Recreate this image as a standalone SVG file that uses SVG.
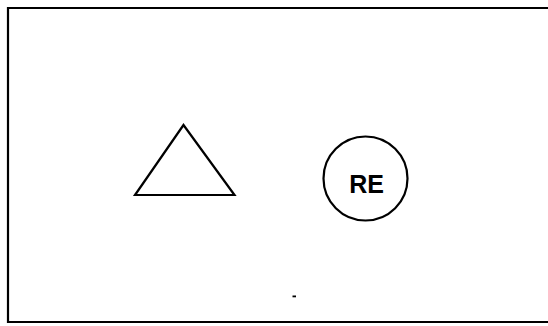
<svg xmlns="http://www.w3.org/2000/svg" width="548" height="326" viewBox="0 0 548 326">
<style>
.ln{fill:none;stroke:#000;stroke-width:2.2;stroke-linejoin:miter}
.lbl{font-family:"Liberation Sans",Arial,sans-serif;font-weight:bold;font-size:25px;fill:#000}
</style>
<rect width="548" height="326" fill="#fff"/>
<g id="frame"><path class="ln" d="M560 8 H8 V322 H560" stroke-width="2.5"/></g>
<g id="triangle"><polygon class="ln" points="183.5,125 135,195 234.5,195"/></g>
<g id="re"><circle class="ln" cx="365.5" cy="178.5" r="42"/><text class="lbl" x="366.5" y="193" text-anchor="middle">RE</text></g>
<g id="connectors"></g>
<rect x="292.5" y="295.5" width="3.5" height="1.8" fill="#000"/>
</svg>
